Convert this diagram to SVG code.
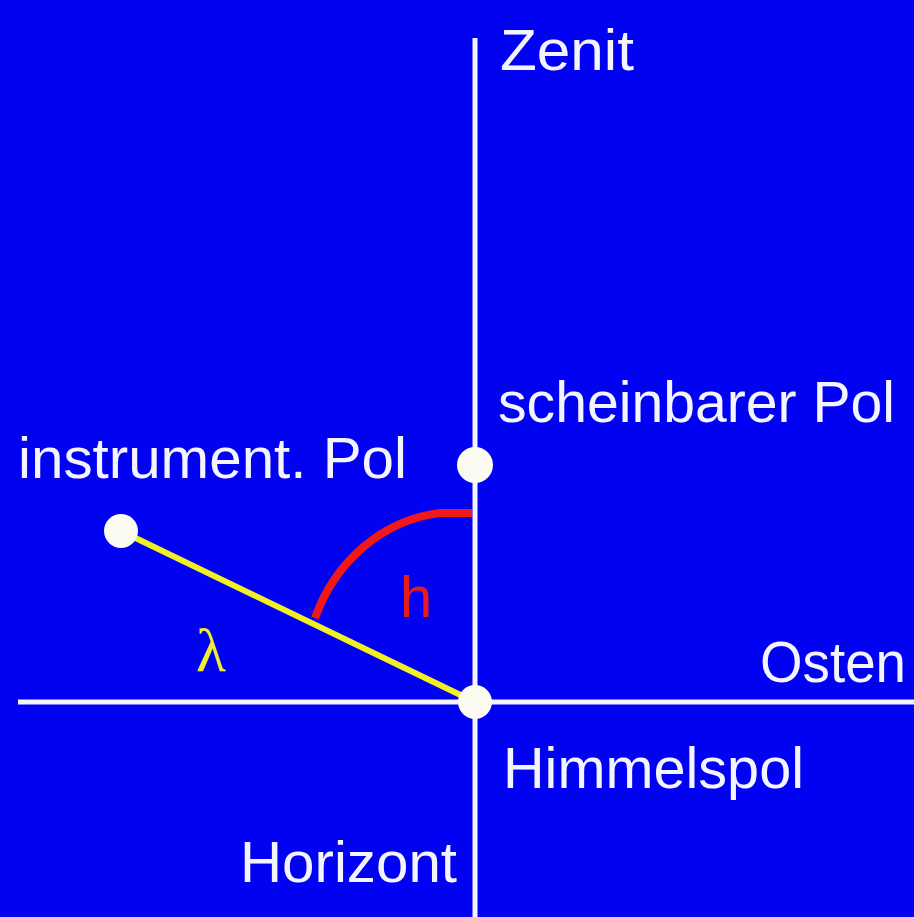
<svg xmlns="http://www.w3.org/2000/svg" width="914" height="917" viewBox="0 0 914 917">
<style>
.lbl{font-family:"Liberation Sans",Arial,sans-serif;font-size:58px;fill:#f4f4ff}
.axis{stroke:#f4f4ff;stroke-width:5;fill:none}
.dot{fill:#fbfbf2}
</style>
<rect width="914" height="917" fill="#0202f2"/>
<g id="connectors">
<line class="axis" x1="475" y1="38" x2="475" y2="917"/>
<line class="axis" x1="18" y1="702" x2="914" y2="702"/>
<line x1="121" y1="531" x2="475" y2="702" stroke="#f2f020" stroke-width="6"/>
<path d="M315,618 C335,562 382,520 440,513 L472,513" fill="none" stroke="#f01818" stroke-width="8"/>
</g>
<g id="zenit"><text class="lbl" x="500" y="70" textLength="134" lengthAdjust="spacingAndGlyphs">Zenit</text></g>
<g id="scheinbarer-pol">
<circle class="dot" cx="475" cy="465" r="18"/>
<text class="lbl" x="498" y="422" textLength="397" lengthAdjust="spacingAndGlyphs">scheinbarer Pol</text>
</g>
<g id="instrument-pol">
<circle class="dot" cx="121" cy="531" r="17"/>
<text class="lbl" x="18" y="478" textLength="389" lengthAdjust="spacingAndGlyphs">instrument. Pol</text>
</g>
<g id="himmelspol">
<circle class="dot" cx="475" cy="702" r="17"/>
<text class="lbl" x="503" y="788" textLength="301" lengthAdjust="spacingAndGlyphs">Himmelspol</text>
</g>
<g id="osten"><text class="lbl" x="760" y="682" textLength="146" lengthAdjust="spacingAndGlyphs">Osten</text></g>
<g id="horizont"><text class="lbl" x="240" y="882" textLength="217" lengthAdjust="spacingAndGlyphs">Horizont</text></g>
<g id="h-label"><text x="400" y="617" font-family="Liberation Sans,Arial,sans-serif" font-size="58" fill="#e81c1c">h</text></g>
<g id="lambda-label"><text x="196" y="671" font-family="Liberation Serif,Times New Roman,serif" font-size="62" fill="#eeee30">λ</text></g>
</svg>
